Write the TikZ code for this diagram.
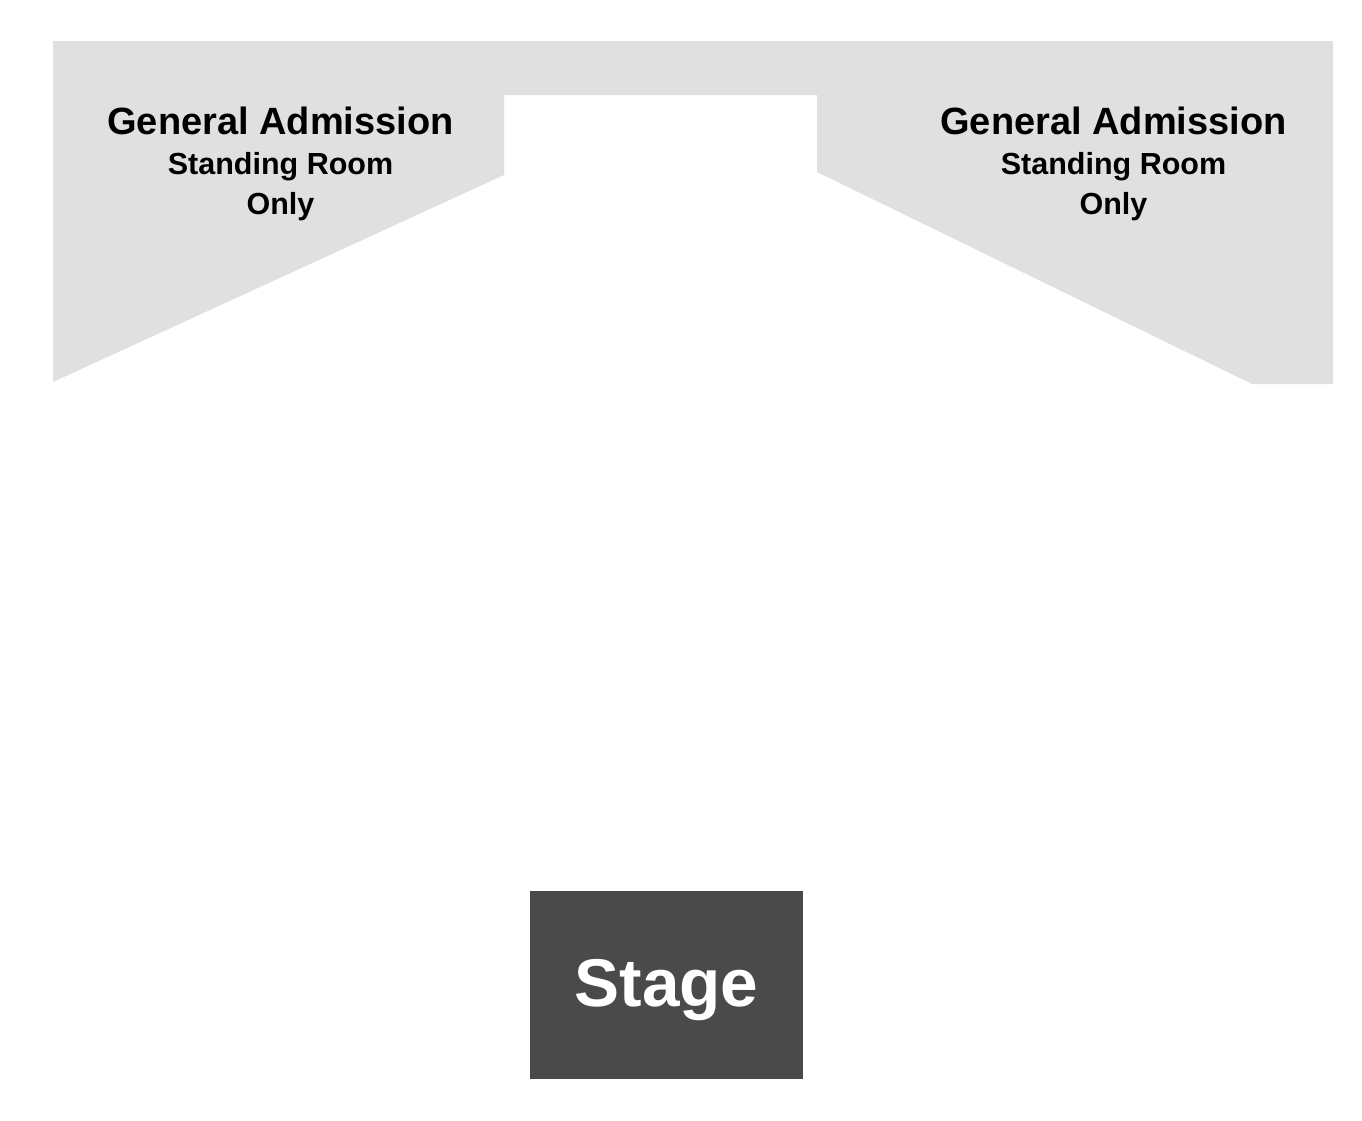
\documentclass[tikz,border=0pt]{standalone}
\usepackage{fontspec}
\setmainfont{Liberation Sans}
\definecolor{galgray}{HTML}{E0E0E0}
\definecolor{stagegray}{HTML}{4A4A4A}
\tikzset{
  gaarea/.style={fill=galgray, draw=none},
  gatitle/.style={anchor=base, inner sep=0pt, font=\bfseries\fontsize{38}{40}\selectfont},
  gasub/.style={anchor=base, inner sep=0pt, font=\bfseries\fontsize{30.5}{32}\selectfont},
  stagebox/.style={fill=stagegray, draw=none, minimum width=273pt, minimum height=188pt, inner sep=0pt},
  stagetext/.style={anchor=base, inner sep=0pt, text=white, font=\bfseries\fontsize{67.5}{70}\selectfont}
}
\begin{document}
\begin{tikzpicture}[x=1pt,y=-1pt]
\useasboundingbox (0,0) rectangle (1362,1120);
\fill[white] (0,0) rectangle (1362,1120);
\path[gaarea] (53,41) -- (1333,41) -- (1333,384) -- (1252,384) -- (817,172) -- (817,95) -- (504,95) -- (504,175) -- (53,382) -- cycle;
\node[gatitle] (lga) at (280.5,134) {General Admission};
\node[gasub] (lsr) at (280.5,174) {Standing Room};
\node[gasub] (lonly) at (280.5,214.5) {Only};
\node[gatitle] (rga) at (1113.5,134) {General Admission};
\node[gasub] (rsr) at (1113.5,174) {Standing Room};
\node[gasub] (ronly) at (1113.5,214.5) {Only};
\node[stagebox] (stage) at (666.5,985) {};
\node[stagetext] (stagelabel) at (666.5,1006) {Stage};
\end{tikzpicture}
\end{document}
